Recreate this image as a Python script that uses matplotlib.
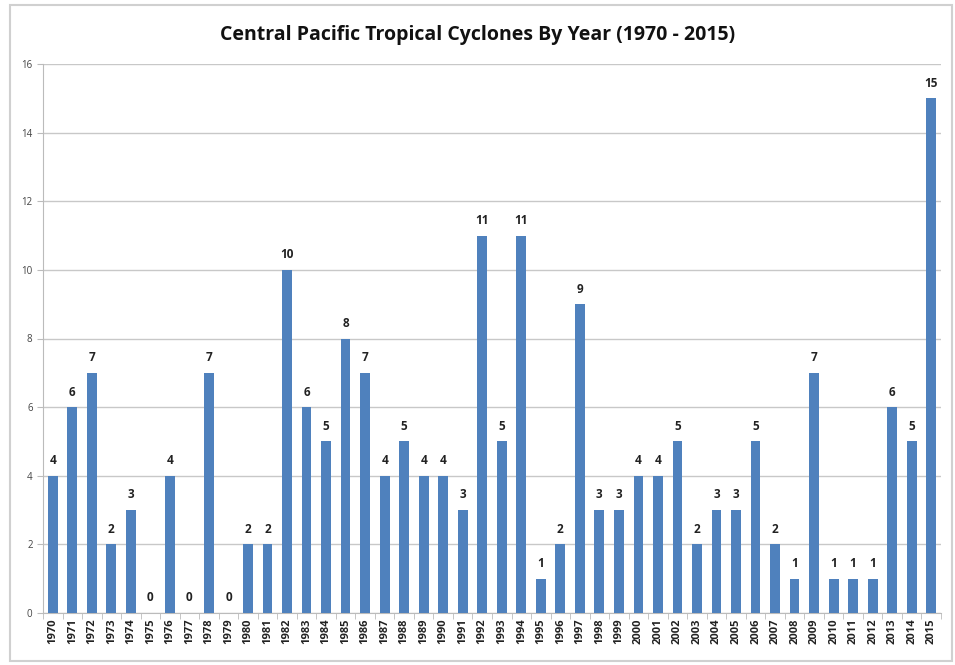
import matplotlib.pyplot as plt
from matplotlib.patches import Rectangle

years = [str(y) for y in range(1970, 2016)]
counts = [4, 6, 7, 2, 3, 0, 4, 0, 7, 0,
          2, 2, 10, 6, 5, 8, 7, 4, 5, 4,
          4, 3, 11, 5, 11, 1, 2, 9, 3, 3,
          4, 4, 5, 2, 3, 3, 5, 2, 1, 7,
          1, 1, 1, 6, 5, 15]
yticks = [0, 2, 4, 6, 8, 10, 12, 14, 16]

plt.rcParams['font.family'] = ['Open Sans', 'DejaVu Sans']

fig = plt.figure(figsize=(9.55, 6.65), dpi=100)
ax = fig.add_axes([43/955, 1 - 613/665, (941-43)/955, (613-64)/665])

x = list(range(len(years)))
ax.bar(x, counts, width=0.5, color='#4F81BD', zorder=3)
for xi, c in zip(x, counts):
    ax.text(xi, c + 0.25, str(c), ha='center', va='bottom', fontsize=8.5,
            fontweight='bold', color='#222222')

ax.set_xlim(-0.5, len(years) - 0.5)
ax.set_ylim(0, 16)
ax.set_yticks(yticks)
ax.set_yticklabels([str(t) for t in yticks], fontsize=7, color='#444444')
ax.set_xticks(x)
ax.set_xticklabels(years, rotation=90, fontsize=8, fontweight='bold', color='#222222')
ax.set_xticks([i - 0.5 for i in range(len(years) + 1)], minor=True)
ax.tick_params(axis='x', which='major', length=0, pad=4)
ax.tick_params(axis='x', which='minor', length=4, color='#BBBBBB')
ax.tick_params(axis='y', length=4, color='#BBBBBB')
ax.yaxis.grid(True, color='#C8C8C8', linewidth=1, zorder=0)
for s in ['top', 'right']:
    ax.spines[s].set_visible(False)
ax.spines['left'].set_color('#BBBBBB')
ax.spines['bottom'].set_color('#BBBBBB')

fig.text(0.5, 1 - 35/665, 'Central Pacific Tropical Cyclones By Year (1970 - 2015)',
         ha='center', va='center', fontsize=14, fontweight='bold', color='#111111')

fig.patches.append(Rectangle((10/955, 4/665), 942/955, 656/665, transform=fig.transFigure,
                             fill=False, edgecolor='#D0D0D0', linewidth=1.5))

fig.savefig('out.png', dpi=100)
